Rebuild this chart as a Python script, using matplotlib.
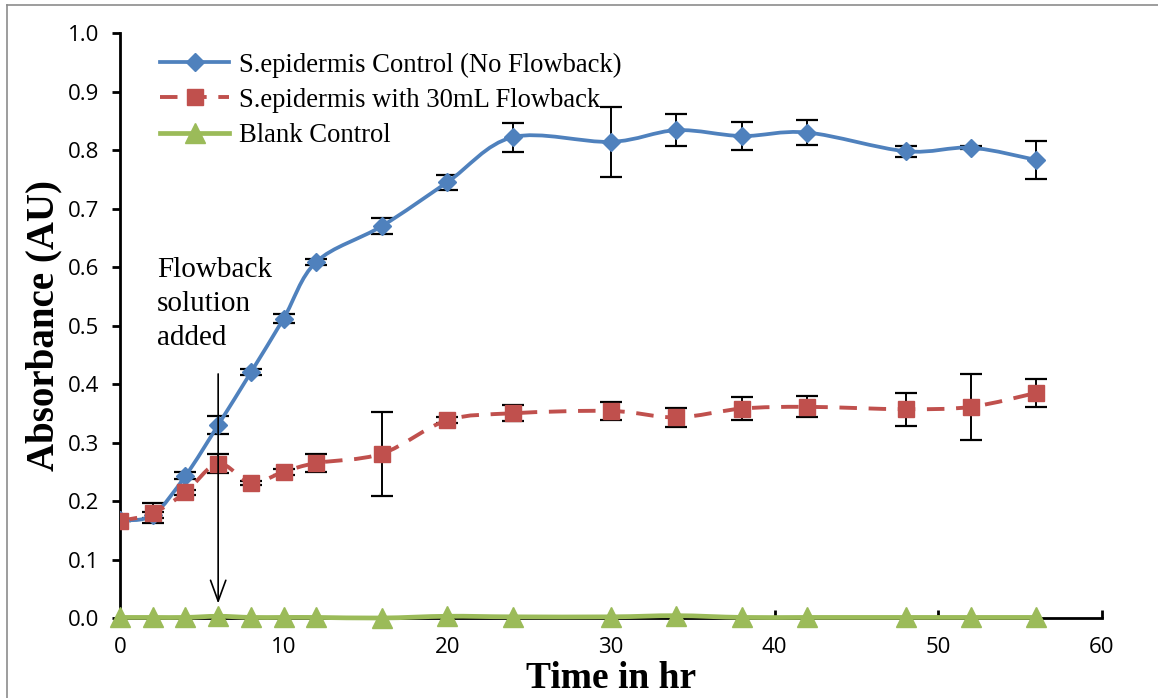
import matplotlib
matplotlib.use("Agg")
import matplotlib.pyplot as plt
import numpy as np
from matplotlib.path import Path
from matplotlib.patches import PathPatch
from matplotlib.lines import Line2D

# Sampling times (hr)
time_hr = [0, 2, 4, 6, 8, 10, 12, 16, 20, 24, 30, 34, 38, 42, 48, 52, 56]

# S. epidermis control (no flowback)
control_mean = [0.167, 0.176, 0.243, 0.330, 0.420, 0.512, 0.609, 0.670, 0.745, 0.822,
                0.814, 0.834, 0.824, 0.830, 0.798, 0.804, 0.783]
control_err = [0.0, 0.005, 0.006, 0.015, 0.005, 0.007, 0.005, 0.014, 0.013, 0.025,
               0.060, 0.027, 0.024, 0.022, 0.009, 0.003, 0.033]

# S. epidermis with 30 mL flowback
flowback_mean = [0.166, 0.179, 0.215, 0.264, 0.231, 0.250, 0.265, 0.281, 0.338, 0.350,
                 0.354, 0.343, 0.358, 0.361, 0.357, 0.361, 0.385]
flowback_err = [0.0, 0.017, 0.004, 0.016, 0.004, 0.005, 0.015, 0.072, 0.005, 0.014,
                0.015, 0.016, 0.019, 0.018, 0.028, 0.057, 0.024]

# Blank control
blank_mean = [0.001, 0.001, 0.001, 0.003, 0.001, 0.001, 0.001, 0.000, 0.003, 0.002,
              0.002, 0.004, 0.001, 0.001, 0.001, 0.001, 0.001]

labels = ["S.epidermis Control (No Flowback)",
          "S.epidermis with 30mL Flowback",
          "Blank Control"]

BLUE = "#4F81BD"
RED = "#C0504D"
GREEN = "#9BBB59"

SERIF = ["Liberation Serif", "DejaVu Serif"]
TICKFONT = ["Open Sans", "DejaVu Sans"]

BLUE_LW, RED_LW, GREEN_LW = 2.7, 2.8, 3.4
RED_DASH = (0, (4.5, 3.0))


def smooth_path(x, y, tension=1.0 / 6.0):
    """Cubic Bezier path through the points (Catmull-Rom style smoothing)."""
    pts = np.column_stack([x, y]).astype(float)
    n = len(pts)
    verts = [pts[0]]
    codes = [Path.MOVETO]
    for i in range(n - 1):
        p0 = pts[i - 1] if i > 0 else pts[i]
        p1 = pts[i]
        p2 = pts[i + 1]
        p3 = pts[i + 2] if i + 2 < n else pts[i + 1]
        c1 = p1 + (p2 - p0) * tension
        c2 = p2 - (p3 - p1) * tension
        verts += [c1, c2, p2]
        codes += [Path.CURVE4] * 3
    return Path(verts, codes)


fig = plt.figure(figsize=(11.58, 6.98), dpi=100)
ax = fig.add_axes([0.1036, 0.1146, 0.848, 0.838])

ax.set_xlim(0, 60)
ax.set_ylim(0, 1.0)

# Error bars (drawn beneath the markers)
for mean, err in ((control_mean, control_err), (flowback_mean, flowback_err)):
    ax.errorbar(time_hr, mean, yerr=err, fmt="none", ecolor="black",
                elinewidth=1.4, capsize=8, capthick=1.6, zorder=2)

# Smoothed connecting lines
ax.add_patch(PathPatch(smooth_path(time_hr, control_mean), fill=False, edgecolor=BLUE,
                       linewidth=BLUE_LW, zorder=3, capstyle="round", joinstyle="round"))
ax.add_patch(PathPatch(smooth_path(time_hr, flowback_mean), fill=False, edgecolor=RED,
                       linewidth=RED_LW, linestyle=RED_DASH, zorder=3))
ax.add_patch(PathPatch(smooth_path(time_hr, blank_mean), fill=False, edgecolor=GREEN,
                       linewidth=GREEN_LW, zorder=3, clip_on=False))

# Markers
ax.plot(time_hr, control_mean, ls="none", marker="D", ms=9.5, color=BLUE, zorder=4)
ax.plot(time_hr, flowback_mean, ls="none", marker="s", ms=11, color=RED, zorder=4)
ax.plot(time_hr, blank_mean, ls="none", marker="^", ms=15, color=GREEN, zorder=4,
        clip_on=False)

# Axes styling
for side in ("top", "right"):
    ax.spines[side].set_visible(False)
ax.spines["left"].set_linewidth(2.0)
ax.spines["bottom"].set_linewidth(2.0)

ax.set_xticks(np.arange(0, 61, 10))
ax.set_yticks(np.round(np.arange(0, 1.01, 0.1), 1))
ax.set_yticklabels([f"{v:.1f}" for v in np.arange(0, 1.01, 0.1)])
ax.tick_params(axis="y", direction="out", length=6, width=2, pad=9, labelsize=16)
ax.tick_params(axis="x", direction="in", length=6, width=2, pad=14, labelsize=16)
for lab in ax.get_xticklabels() + ax.get_yticklabels():
    lab.set_fontfamily(TICKFONT)

ax.set_xlabel("Time in hr", fontfamily=SERIF, fontweight="bold", fontsize=27, labelpad=2)
ax.set_ylabel("Absorbance (AU)", fontfamily=SERIF, fontweight="bold", fontsize=28, labelpad=4)

# Annotation marking the addition of flowback solution
ax.annotate("", xy=(6, 0.02), xytext=(6, 0.422),
            arrowprops=dict(arrowstyle="->,head_length=1.5,head_width=0.55",
                            color="black", lw=1.2), zorder=5)
ax.text(2.25, 0.617, "Flowback\nsolution\nadded", fontfamily=SERIF, fontsize=21,
        ha="left", va="top", linespacing=1.4, zorder=5)

# Legend
handles = [
    Line2D([], [], color=BLUE, lw=BLUE_LW, marker="D", ms=9.5),
    Line2D([], [], color=RED, lw=RED_LW, ls=RED_DASH, marker="s", ms=11),
    Line2D([], [], color=GREEN, lw=GREEN_LW, marker="^", ms=15),
]
ax.legend(handles, labels, loc="upper left", bbox_to_anchor=(0.03, 0.985),
          frameon=False, prop={"family": SERIF, "size": 19.2},
          handlelength=2.6, handletextpad=0.35, labelspacing=0.38, borderaxespad=0)

# Thin outer frame
fig.add_artist(Line2D([7 / 1158, 7 / 1158], [0, 1 - 5 / 698], transform=fig.transFigure,
                      color="#8c8c8c", lw=1.2))
fig.add_artist(Line2D([7 / 1158, 1], [1 - 5 / 698, 1 - 5 / 698], transform=fig.transFigure,
                      color="#8c8c8c", lw=1.2))

fig.savefig("out.png", dpi=100)
